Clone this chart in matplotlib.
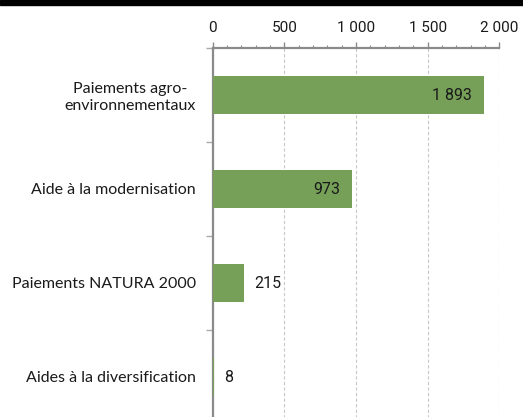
import matplotlib
matplotlib.use("Agg")
import matplotlib.pyplot as plt
from matplotlib.ticker import FuncFormatter, MultipleLocator
from matplotlib.patches import Rectangle

categories = ["Paiements agro-\nenvironnementaux", "Aide à la modernisation",
              "Paiements NATURA 2000", "Aides à la diversification"]
values = [1893, 973, 215, 8]
inside = [True, True, False, False]  # label drawn inside the bar

plt.rcParams["font.family"] = ["Lato", "DejaVu Sans"]
num_font = ["Roboto", "DejaVu Sans"]

bar_color = "#76a057"
axis_grey = "#8a8a8a"

def fmt(v, pos=None):
    return f"{v:,.0f}".replace(",", " ")

fig = plt.figure(figsize=(5.23, 4.17), dpi=100)
ax = fig.add_axes([212.7 / 523, -7 / 417, 286.6 / 523, 376 / 417])

ypos = list(range(len(values)))
ax.barh(ypos, values, height=0.4, color=bar_color, zorder=3)

for y, v, ins in zip(ypos, values, inside):
    if ins:
        ax.annotate(fmt(v), (v, y), xytext=(-8.5, 0), textcoords="offset points",
                    ha="right", va="center", fontsize=11.5, family=num_font,
                    color="#1a1a1a", zorder=4)
    else:
        ax.annotate(fmt(v), (v, y), xytext=(7.5, 0), textcoords="offset points",
                    ha="left", va="center", fontsize=11.5, family=num_font,
                    color="#1a1a1a", zorder=4)

ax.set_xlim(0, 2000)
ax.set_ylim(len(values) - 0.5, -0.5)

ax.xaxis.tick_top()
ax.xaxis.set_major_locator(MultipleLocator(500))
ax.xaxis.set_minor_locator(MultipleLocator(100))
ax.xaxis.set_major_formatter(FuncFormatter(fmt))
ax.tick_params(axis="x", which="major", length=4, width=1, color=axis_grey,
               labelsize=11, pad=5, labelcolor="#1a1a1a")
ax.tick_params(axis="x", which="minor", length=2, width=0.8, color=axis_grey)
for t in ax.get_xticklabels():
    t.set_family(num_font)

ax.set_yticks(ypos)
ax.set_yticklabels(categories, multialignment="center")
ax.set_yticks([y - 0.5 for y in ypos] + [len(values) - 0.5], minor=True)
ax.tick_params(axis="y", which="major", length=0, labelsize=11.5, pad=12, labelcolor="#1a1a1a")
ax.tick_params(axis="y", which="minor", length=5, width=1, color="#aaaaaa")

ax.grid(axis="x", which="major", linestyle=(0, (3, 2)), linewidth=0.8, color="#c8c8c8", zorder=0)

for s in ["right", "bottom"]:
    ax.spines[s].set_visible(False)
for s in ["top", "left"]:
    ax.spines[s].set_color(axis_grey)
    ax.spines[s].set_linewidth(1.6)

# dark band along the top edge
fig.patches.append(Rectangle((0, 1 - 5 / 417), 1, 5 / 417, transform=fig.transFigure,
                             color="black", zorder=10))

fig.savefig("out.png", dpi=100)
